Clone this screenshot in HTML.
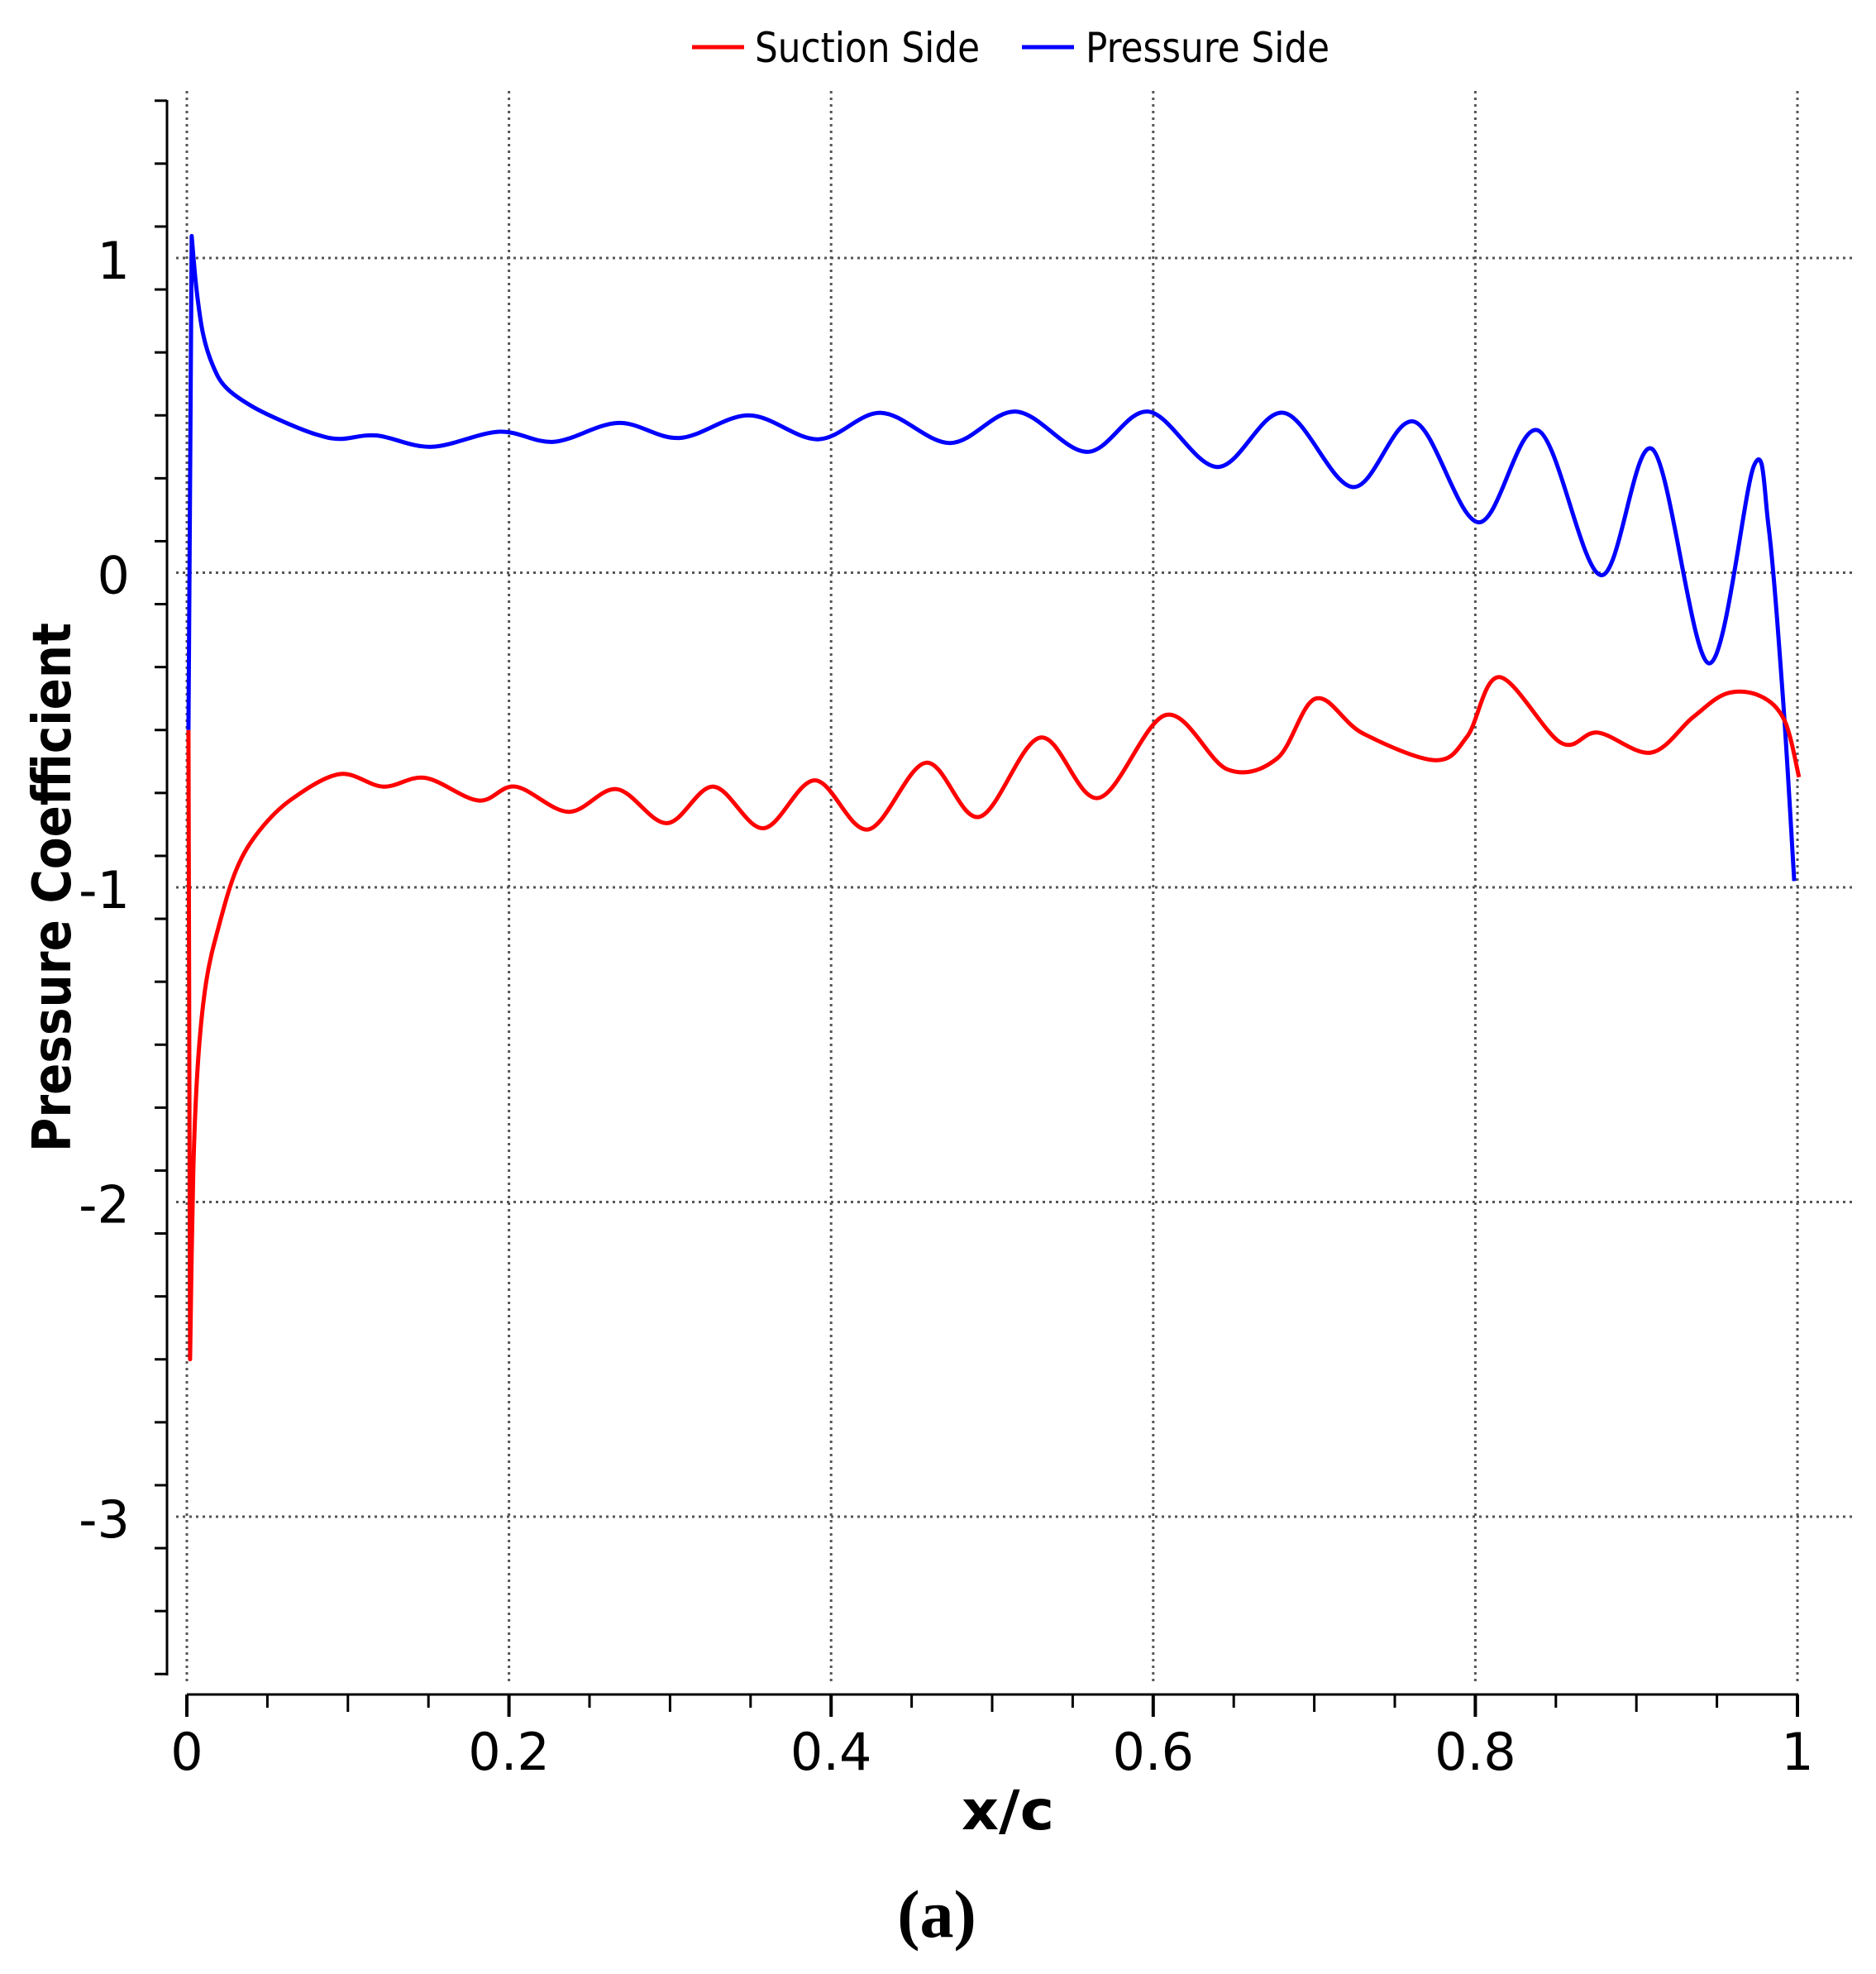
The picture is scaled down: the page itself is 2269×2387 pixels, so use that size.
<!DOCTYPE html>
<html><head><meta charset="utf-8"><style>
html,body{margin:0;padding:0;background:#fff;}
svg{display:block;}
</style></head><body>
<svg id="s" width="2269" height="2387" viewBox="0 0 2269 2387" xmlns="http://www.w3.org/2000/svg">
<g id="grid" stroke="#555" stroke-width="3" stroke-dasharray="3 5"></g>
<g id="axes" stroke="#000" fill="none"></g>
<g id="labels" font-family="'DejaVu Sans','Liberation Sans',sans-serif" font-size="62" fill="#000"></g>
<path id="blue" fill="none" stroke="#0000ff" stroke-width="5" stroke-linejoin="round"/>
<path id="red" fill="none" stroke="#ff0000" stroke-width="5" stroke-linejoin="round"/>
<line x1="837" y1="57" x2="900" y2="57" stroke="#ff0000" stroke-width="5"/>
<text x="913" y="75" font-family="'DejaVu Sans','Liberation Sans',sans-serif" font-size="50" textLength="272" lengthAdjust="spacingAndGlyphs">Suction Side</text>
<line x1="1236" y1="57" x2="1299" y2="57" stroke="#0000ff" stroke-width="5"/>
<text x="1313" y="75" font-family="'DejaVu Sans','Liberation Sans',sans-serif" font-size="50" textLength="295" lengthAdjust="spacingAndGlyphs">Pressure Side</text>
<text x="1219" y="2212" text-anchor="middle" font-family="'DejaVu Sans','Liberation Sans',sans-serif" font-weight="bold" font-size="66" textLength="112" lengthAdjust="spacingAndGlyphs">x/c</text>
<text transform="translate(85,1073) rotate(-90)" text-anchor="middle" font-family="'DejaVu Sans','Liberation Sans',sans-serif" font-weight="bold" font-size="64" textLength="640" lengthAdjust="spacingAndGlyphs">Pressure Coefficient</text>
<text x="1133" y="2342" text-anchor="middle" font-family="'Liberation Serif',serif" font-weight="bold" font-size="82">(a)</text>
</svg>
<script>
var NS="http://www.w3.org/2000/svg";
function X(x){return 226+1948*x;}
function Y(v){return 692.5-380.5*v;}
function el(p,t,a){var e=document.createElementNS(NS,t);for(var k in a)e.setAttribute(k,a[k]);p.appendChild(e);return e;}
var g=document.getElementById('grid'),ax=document.getElementById('axes'),lb=document.getElementById('labels');
for(var i=0;i<=5;i++){var x=X(i*0.2);el(g,'line',{x1:x,y1:110,x2:x,y2:2036});}
[1,0,-1,-2,-3].forEach(function(v){el(g,'line',{x1:213,y1:Y(v),x2:2240,y2:Y(v)});});
el(ax,'line',{x1:202,y1:121,x2:202,y2:2026,'stroke-width':3});
for(var k=0;k<=25;k++){var v=1.5-k*0.2;v=Math.round(v*10)/10;var maj=Math.abs(v-Math.round(v))<1e-6;
 el(ax,'line',{x1:maj?176:187,y1:Y(v),x2:202,y2:Y(v),'stroke-width':maj?4:3});}
[1,0,-1,-2,-3].forEach(function(v){var t=el(lb,'text',{x:157,y:Y(v)+25,'text-anchor':'end'});t.textContent=(v<0?'-':'')+Math.abs(v);});
el(ax,'line',{x1:226,y1:2049,x2:2175,y2:2049,'stroke-width':3});
for(var k=0;k<=20;k++){var x=k*0.05;var len=(k%4==0)?27:(k%2==0?21:16);
 el(ax,'line',{x1:X(x),y1:2049,x2:X(x),y2:2049+len,'stroke-width':(k%4==0)?4:3});}
['0','0.2','0.4','0.6','0.8','1'].forEach(function(s,i){var t=el(lb,'text',{x:X(i*0.2),y:2140,'text-anchor':'middle'});t.textContent=s;});
function cr(pts){var d='M'+pts[0][0].toFixed(1)+','+pts[0][1].toFixed(1);
 for(var i=0;i<pts.length-1;i++){var p0=pts[i-1]||pts[i],p1=pts[i],p2=pts[i+1],p3=pts[i+2]||p2;
  var c1=[p1[0]+(p2[0]-p0[0])/6,p1[1]+(p2[1]-p0[1])/6],c2=[p2[0]-(p3[0]-p1[0])/6,p2[1]-(p3[1]-p1[1])/6];
  d+=' C'+c1[0].toFixed(1)+','+c1[1].toFixed(1)+' '+c2[0].toFixed(1)+','+c2[1].toFixed(1)+' '+p2[0].toFixed(1)+','+p2[1].toFixed(1);}
 return d;}
function mp(a){return a.map(function(p){return [X(p[0]),Y(p[1])];});}
var blue=[[0.003,1.07],[0.006,0.9],[0.01,0.76],[0.016,0.66],[0.024,0.59],[0.04,0.53],[0.06,0.48],[0.08,0.44],[0.095,0.425],[0.118,0.436],[0.152,0.40],[0.194,0.448],[0.228,0.416],[0.268,0.476],[0.306,0.428],[0.349,0.50],[0.392,0.424],[0.431,0.508],[0.474,0.412],[0.515,0.512],[0.559,0.384],[0.597,0.512],[0.640,0.336],[0.681,0.508],[0.724,0.272],[0.762,0.48],[0.802,0.16],[0.839,0.452],[0.878,-0.008],[0.910,0.392],[0.945,-0.288],[0.973,0.34],[0.982,0.15],[0.991,-0.4],[0.998,-0.98]];
var red=[[0.002,-2.5],[0.004,-1.9],[0.007,-1.55],[0.012,-1.3],[0.02,-1.12],[0.031,-0.94],[0.045,-0.82],[0.065,-0.72],[0.095,-0.64],[0.122,-0.68],[0.148,-0.652],[0.181,-0.724],[0.204,-0.68],[0.237,-0.76],[0.267,-0.688],[0.298,-0.796],[0.327,-0.68],[0.358,-0.812],[0.390,-0.66],[0.423,-0.816],[0.459,-0.604],[0.492,-0.776],[0.530,-0.524],[0.566,-0.716],[0.608,-0.452],[0.646,-0.625],[0.677,-0.59],[0.701,-0.40],[0.730,-0.51],[0.775,-0.596],[0.795,-0.52],[0.815,-0.332],[0.853,-0.54],[0.876,-0.508],[0.909,-0.572],[0.935,-0.46],[0.956,-0.384],[0.977,-0.392],[0.992,-0.47],[1.001,-0.65]];
var bp=mp(blue),rp=mp(red);
document.getElementById('blue').setAttribute('d','M'+X(0.001)+','+Y(-0.5)+' L'+bp[0][0]+','+bp[0][1]+' '+cr(bp).slice(1).replace(/^[^C]*/,' '));
document.getElementById('red').setAttribute('d','M'+X(0.001)+','+Y(-0.5)+' L'+rp[0][0]+','+rp[0][1]+' '+cr(rp).slice(1).replace(/^[^C]*/,' '));
</script>
</body></html>
